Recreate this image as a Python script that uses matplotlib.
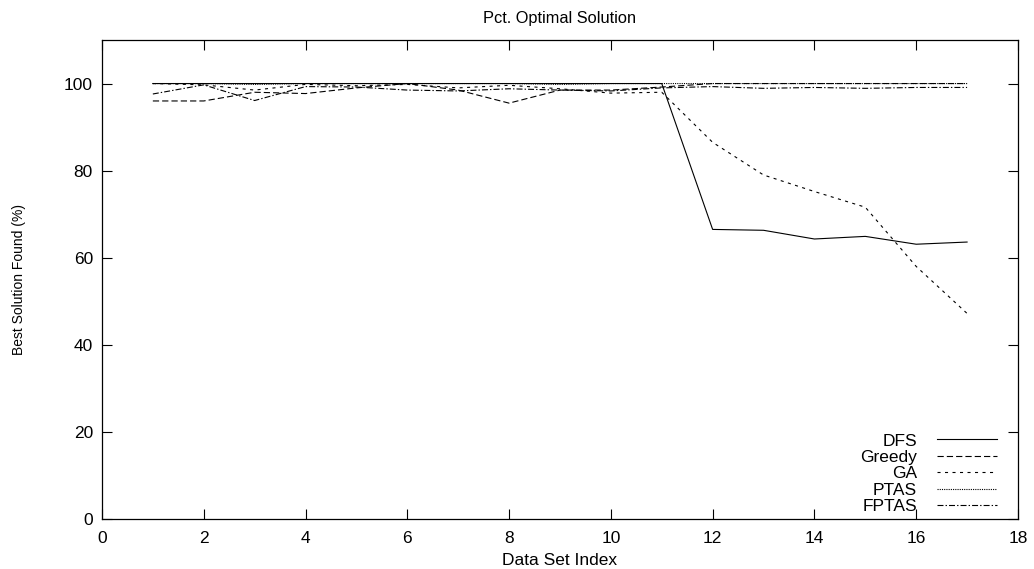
import matplotlib
matplotlib.use("Agg")
import matplotlib.pyplot as plt

# data
data_index = list(range(1, 18))
dfs = [100, 100, 100, 100, 100, 100, 100, 100, 100, 100, 100,
       66.5, 66.3, 64.3, 64.9, 63.1, 63.6]
greedy = [96, 96, 98, 97.7, 99, 100, 98.5, 95.5, 98.5, 98.5, 99.2,
          100, 100, 100, 100, 100, 100]
ga = [100, 99.7, 98.5, 99.8, 99.5, 99.8, 99, 99.6, 98.8, 97.8, 98,
      86.5, 79, 75.2, 71.6, 58, 47.2]
ptas = [100, 100, 99.8, 100, 100, 100, 100, 100, 99.8, 100, 100,
        100, 100, 100, 100, 100, 100]
fptas = [97.6, 99.7, 96.1, 99.3, 99.2, 98.5, 98.3, 98.8, 98.5, 98.3, 99,
         99.3, 98.9, 99.1, 98.9, 99.1, 99.1]

series_names = ["DFS", "Greedy", "GA", "PTAS", "FPTAS"]
x_ticks = list(range(0, 19, 2))
y_ticks = list(range(0, 101, 20))

plt.rcParams['font.family'] = ['Liberation Sans', 'DejaVu Sans']
plt.rcParams['lines.scale_dashes'] = False

fig = plt.figure(figsize=(10.34, 5.69), dpi=100)
ax = fig.add_axes([0.0986, 0.0879, 0.8859, 0.8418])

styles = [
    '-',
    (0, (4.5, 2.2)),
    (0, (2.2, 3.2)),
    (0, (0.8, 0.8)),
    (0, (4.3, 1.5, 1.0, 1.5)),
]
for name, vals, ls in zip(series_names, [dfs, greedy, ga, ptas, fptas], styles):
    ax.plot(data_index, vals, color='black', linestyle=ls, linewidth=0.8, label=name)

ax.set_xlim(0, 18)
ax.set_ylim(0, 110)
ax.set_xticks(x_ticks)
ax.set_yticks(y_ticks)
ax.tick_params(direction='in', length=7, width=0.8, top=True, right=True,
               labelsize=12.5)
ax.tick_params(axis='x', pad=8.5)
ax.tick_params(axis='y', pad=6.5)
for s in ax.spines.values():
    s.set_linewidth(0.9)

ax.set_xlabel('Data Set Index', fontsize=12.5, labelpad=5)
ax.set_ylabel('Best Solution Found (%)', fontsize=10, labelpad=27)
ax.set_title('Pct. Optimal Solution', fontsize=11.8, pad=12)

ax.legend(loc='lower right', bbox_to_anchor=(0.977, 0.0104), frameon=False,
          markerfirst=False, fontsize=12.5, handlelength=3.46,
          labelspacing=0.07, handletextpad=1.15, borderpad=0,
          borderaxespad=0)

fig.savefig('out.png', dpi=100)
